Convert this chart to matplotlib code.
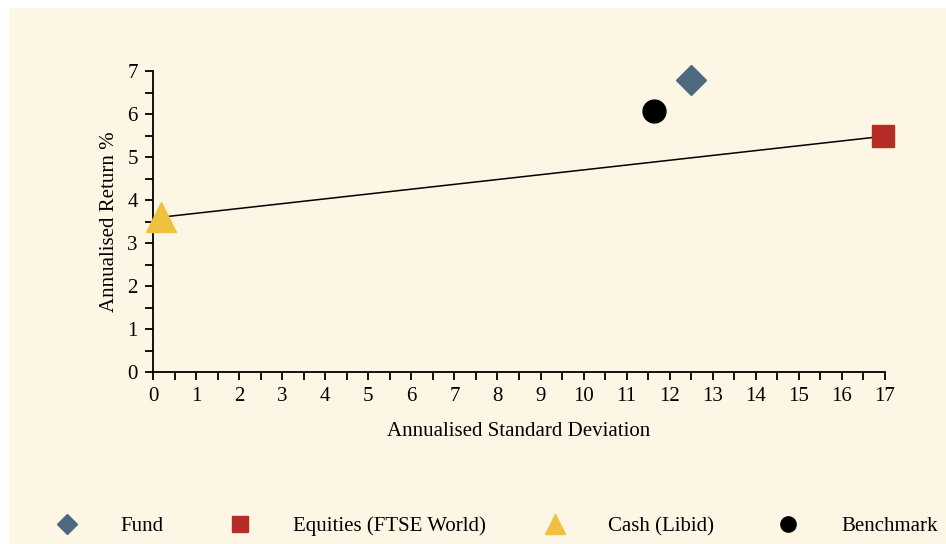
import numpy as np
import matplotlib
matplotlib.use("Agg")
import matplotlib.pyplot as plt
from matplotlib.lines import Line2D
from matplotlib.patches import Rectangle

# risk / return points
names = ["Fund", "Equities (FTSE World)", "Cash (Libid)", "Benchmark"]
std_dev = [12.5, 16.95, 0.19, 11.63]
ann_return = [6.8, 5.48, 3.6, 6.08]
markers = ["D", "s", "^", "o"]
colors = ["#4f6a80", "#b52d25", "#eec23f", "#000000"]
sizes = [15, 15.5, 21, 16.5]
legend_sizes = [10, 11, 15, 11]

# capital market line: cash -> equities
line_x = [std_dev[2], std_dev[1]]
line_y = [ann_return[2], ann_return[1]]

bg = "#fdf6e4"
plt.rcParams["font.family"] = ["Liberation Serif", "DejaVu Serif"]
fs = 15

fig = plt.figure(figsize=(9.46, 5.44), dpi=100, facecolor="white")
# cream panel with a thin white margin top/left
fig.patches.append(Rectangle((9 / 946, 0), 1, 1 - 8 / 544, transform=fig.transFigure,
                             facecolor=bg, edgecolor="none", zorder=-10))

ax = fig.add_axes([153 / 946, 1 - 372 / 544, (885 - 153) / 946, (372 - 71) / 544])
ax.set_facecolor(bg)
ax.patch.set_alpha(0)

ax.plot(line_x, line_y, color="black", lw=1.1, zorder=2)
for x, y, m, c, s in zip(std_dev, ann_return, markers, colors, sizes):
    ax.plot([x], [y], marker=m, color=c, ms=s, ls="none", clip_on=False, zorder=3)

ax.set_xlim(0, 17)
ax.set_ylim(0, 7)
ax.set_xticks(np.arange(0, 18, 1))
ax.set_xticks(np.arange(0, 17.5, 0.5), minor=True)
ax.set_yticks(np.arange(0, 8, 1))
ax.set_yticks(np.arange(0, 7.5, 0.5), minor=True)
for s in ["top", "right"]:
    ax.spines[s].set_visible(False)
for s in ["left", "bottom"]:
    ax.spines[s].set_linewidth(1.3)
ax.tick_params(which="both", direction="out", length=6, width=1.3, labelsize=fs, pad=5)
ax.set_xlabel("Annualised Standard Deviation", fontsize=fs, labelpad=11)
ax.set_ylabel("Annualised Return %", fontsize=fs, labelpad=6)

# legend row along the bottom
leg_x = [67, 240, 555, 788]
for lx, n, m, c, s in zip(leg_x, names, markers, colors, legend_sizes):
    fig.add_artist(Line2D([lx / 946], [1 - 524 / 544], marker=m, color=c, ms=s,
                          ls="none", transform=fig.transFigure))
    fig.text((lx + 53) / 946, 1 - 531 / 544, n, ha="left", va="baseline", fontsize=fs)

fig.savefig("out.png", dpi=100, facecolor="white")
